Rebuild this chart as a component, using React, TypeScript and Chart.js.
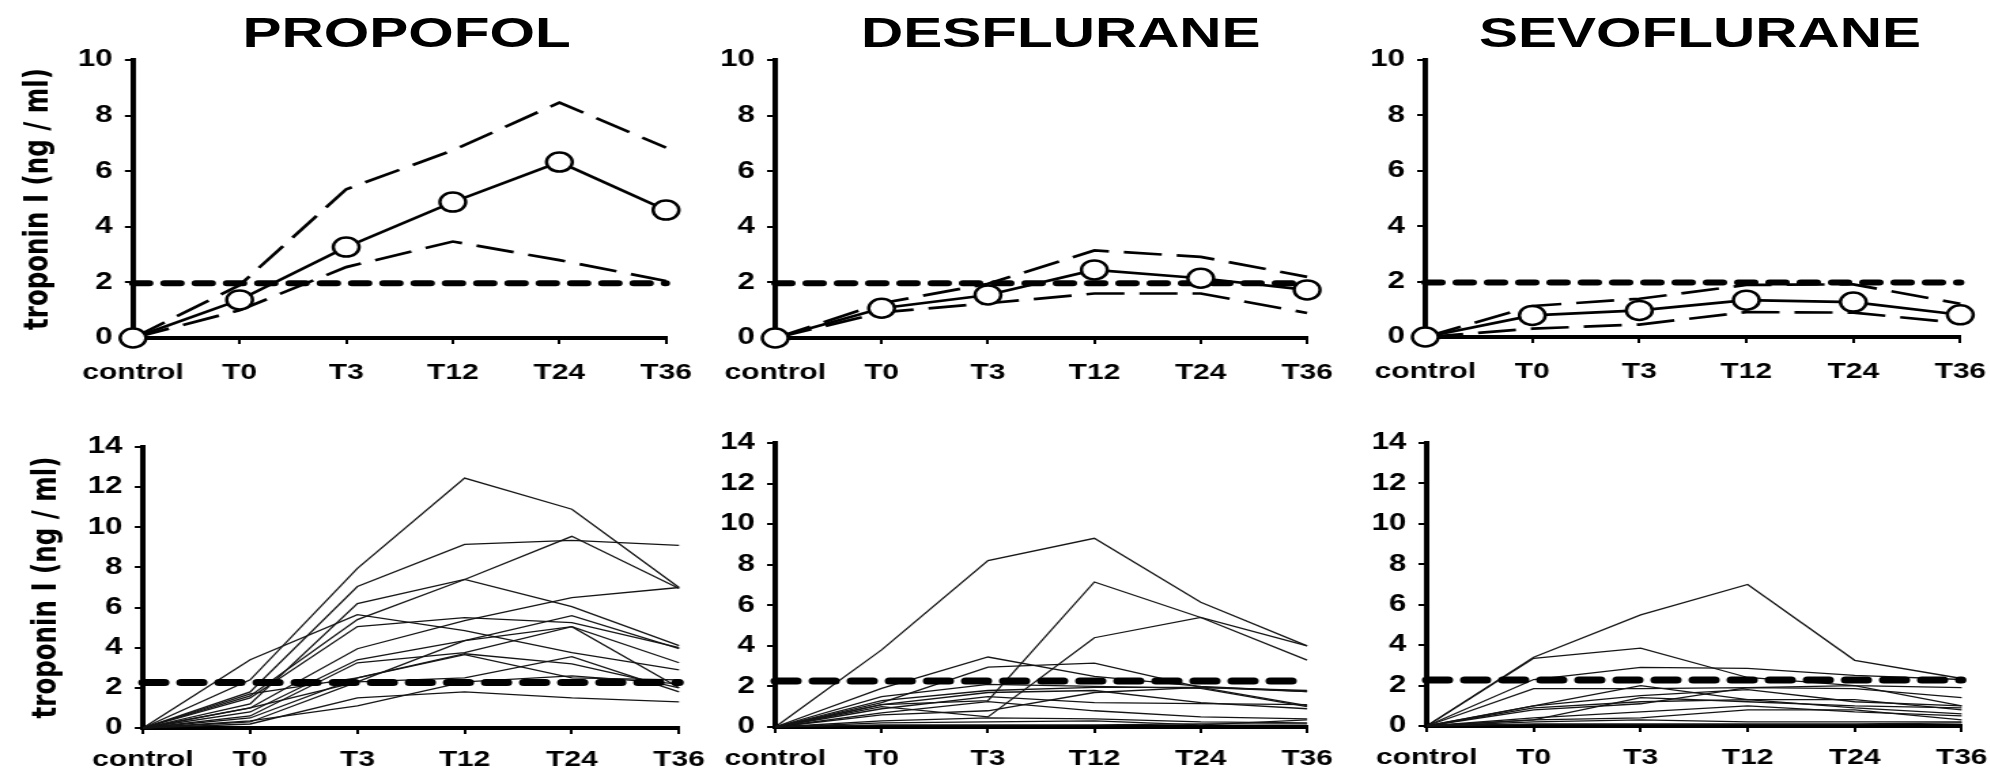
import React, { useEffect, useRef } from "react";
import { Chart, registerables } from "chart.js";

Chart.register(...registerables);

// ---------- data ----------
const timePoints = ["control", "T0", "T3", "T12", "T24", "T36"];
const panelTitles = ["PROPOFOL", "DESFLURANE", "SEVOFLURANE"];
const yAxisTitle = "troponin I (ng / ml)";
const topYMax = 10;
const bottomYMax = 14;
const yStep = 2;

const propofolMean = [0, 1.37, 3.27, 4.89, 6.33, 4.6];
const propofolUpper = [0, 1.9, 5.35, 6.75, 8.47, 6.85];
const propofolLower = [0, 1.0, 2.55, 3.47, 2.8, 2.05];

const desfluraneMean = [0, 1.07, 1.55, 2.45, 2.15, 1.73];
const desfluraneUpper = [0, 1.25, 1.95, 3.15, 2.92, 2.2];
const desfluraneLower = [0, 0.92, 1.25, 1.6, 1.6, 0.9];

const sevofluraneMean = [0, 0.78, 0.96, 1.33, 1.26, 0.8];
const sevofluraneUpper = [0, 1.12, 1.38, 1.88, 1.9, 1.2];
const sevofluraneLower = [0, 0.3, 0.45, 0.9, 0.88, 0.5];

const thresholdTop = 1.97;
const thresholdBottom = 2.27;

const propofolPatients = [
  [0, 2.4, 7.95, 12.45, 10.9, 7.0],
  [0, 1.8, 7.05, 9.15, 9.35, 9.1],
  [0, 1.6, 5.4, 7.4, 9.55, 6.95],
  [0, 1.2, 6.2, 7.4, 6.05, 4.1],
  [0, 3.4, 5.65, 4.85, 3.75, 2.9],
  [0, 1.5, 5.05, 5.5, 5.25, 4.0],
  [0, 1.0, 3.95, 5.35, 6.5, 7.0],
  [0, 0.8, 3.4, 4.35, 5.6, 3.95],
  [0, 0.6, 3.25, 3.75, 5.05, 3.25],
  [0, 1.7, 2.5, 3.65, 2.5, 2.4],
  [0, 0.5, 2.5, 3.7, 3.2, 2.0],
  [0, 0.3, 2.3, 2.5, 3.55, 1.8],
  [0, 0.35, 1.1, 2.3, 2.6, 2.2],
  [0, 0.2, 1.5, 1.8, 1.5, 1.3],
  [0, 1.0, 2.3, 4.35, 5.05, 2.0],
];

const desfluranePatients = [
  [0, 3.8, 8.2, 9.3, 6.15, 4.0],
  [0, 1.1, 1.3, 7.15, 5.4, 3.3],
  [0, 1.0, 0.5, 4.4, 5.4, 4.0],
  [0, 1.9, 3.45, 2.5, 2.0, 1.75],
  [0, 1.2, 2.95, 3.15, 1.95, 1.05],
  [0, 1.3, 1.8, 1.95, 1.95, 1.75],
  [0, 1.1, 1.7, 1.8, 1.2, 0.9],
  [0, 0.9, 1.5, 1.2, 1.15, 1.1],
  [0, 0.7, 1.25, 0.8, 0.5, 0.4],
  [0, 0.6, 0.8, 1.7, 1.95, 1.8],
  [0, 0.3, 0.45, 0.4, 0.25, 0.2],
  [0, 0.2, 0.25, 0.3, 0.1, 0.35],
  [0, 0.1, 0.1, 0.1, 0.15, 0.15],
  [0, 1.5, 2.1, 2.0, 1.9, 1.0],
];

const sevofluranePatients = [
  [0, 3.4, 5.5, 7.0, 3.25, 2.35],
  [0, 3.35, 3.85, 2.4, 2.0, 1.9],
  [0, 2.3, 2.9, 2.85, 2.5, 2.3],
  [0, 1.85, 1.85, 1.9, 1.85, 1.4],
  [0, 1.0, 2.0, 1.3, 1.3, 0.8],
  [0, 1.0, 1.5, 1.8, 1.2, 1.0],
  [0, 0.9, 1.2, 1.3, 0.9, 0.6],
  [0, 0.8, 1.1, 1.9, 2.0, 1.0],
  [0, 0.4, 0.7, 1.0, 0.7, 0.5],
  [0, 0.3, 0.4, 0.8, 0.8, 0.3],
  [0, 0.2, 0.3, 0.2, 0.2, 0.2],
  [0, 0.1, 0.1, 0.1, 0.1, 0.15],
  [0, 0.3, 1.4, 1.2, 1.0, 0.9],
];

// ---------- layout (unstretched px; figure is stretched horizontally) ----------
const STRETCH = 1.36;
const PAD_TOP = 28;
const PAD_RIGHT = 38;
const TICK_FONT = '"Liberation Sans", Arial, sans-serif';

type Area = { l: number; r: number; t: number; b: number };
type PanelCfg = {
  kind: "summary" | "individual";
  yMax: number;
  area: Area;
  yWidth: number;
  xHeight: number;
  showYTitle: boolean;
  yTitlePad: number;
  xPad: number;
  mean?: number[];
  upper?: number[];
  lower?: number[];
  patients?: number[][];
  threshold: number;
};

const panels: PanelCfg[] = [
  { kind: "summary", yMax: topYMax, area: { l: 97.8, r: 489.7, t: 60, b: 338 }, yWidth: 97.8, xHeight: 55, showYTitle: true, yTitlePad: 14, xPad: 16, mean: propofolMean, upper: propofolUpper, lower: propofolLower, threshold: thresholdTop },
  { kind: "summary", yMax: topYMax, area: { l: 569.9, r: 961.0, t: 60, b: 338 }, yWidth: 60, xHeight: 55, showYTitle: false, yTitlePad: 0, xPad: 16, mean: desfluraneMean, upper: desfluraneUpper, lower: desfluraneLower, threshold: thresholdTop },
  { kind: "summary", yMax: topYMax, area: { l: 1047.8, r: 1441.2, t: 60, b: 337 }, yWidth: 60, xHeight: 55, showYTitle: false, yTitlePad: 0, xPad: 16, mean: sevofluraneMean, upper: sevofluraneUpper, lower: sevofluraneLower, threshold: thresholdTop },
  { kind: "individual", yMax: bottomYMax, area: { l: 105.1, r: 499.3, t: 447, b: 728 }, yWidth: 105.1, xHeight: 50, showYTitle: true, yTitlePad: 20, xPad: 13, patients: propofolPatients, threshold: thresholdBottom },
  { kind: "individual", yMax: bottomYMax, area: { l: 569.9, r: 961.0, t: 443, b: 727 }, yWidth: 60, xHeight: 50, showYTitle: false, yTitlePad: 0, xPad: 13, patients: desfluranePatients, threshold: thresholdBottom },
  { kind: "individual", yMax: bottomYMax, area: { l: 1048.5, r: 1441.9, t: 443, b: 726 }, yWidth: 60, xHeight: 50, showYTitle: false, yTitlePad: 0, xPad: 13, patients: sevofluranePatients, threshold: thresholdBottom },
];

const titleCenters = [299, 780, 1250];

function buildDatasets(cfg: PanelCfg): any[] {
  const ds: any[] = [];
  if (cfg.kind === "summary") {
    ds.push({
      label: "mean",
      data: cfg.mean,
      borderColor: "#000",
      borderWidth: 2.6,
      pointRadius: 9.5,
      pointBorderWidth: 2.5,
      pointBackgroundColor: "#fff",
      pointBorderColor: "#000",
      order: 0,
      clip: false,
    });
    ds.push({ label: "upper", data: cfg.upper, borderColor: "#000", borderWidth: 2.7, borderDash: [28, 11], pointRadius: 0, order: 1, clip: false });
    ds.push({ label: "lower", data: cfg.lower, borderColor: "#000", borderWidth: 2.7, borderDash: [28, 11], pointRadius: 0, order: 1, clip: false });
    ds.push({
      label: "threshold",
      data: timePoints.map(() => cfg.threshold),
      borderColor: "#000",
      borderWidth: 6,
      borderDash: [12, 11],
      borderCapStyle: "round",
      pointRadius: 0,
      order: 2,
      clip: false,
    });
  } else {
    (cfg.patients || []).forEach((p, i) => {
      ds.push({ label: "patient " + (i + 1), data: p, borderColor: "#151515", borderWidth: 1.3, pointRadius: 0, order: 1, clip: false });
    });
    ds.push({
      label: "threshold",
      data: timePoints.map(() => cfg.threshold),
      borderColor: "#000",
      borderWidth: 7,
      borderDash: [16, 12],
      borderCapStyle: "round",
      pointRadius: 0,
      order: 0,
      clip: false,
    });
  }
  return ds;
}

function PanelChart({ cfg }: { cfg: PanelCfg }) {
  const ref = useRef<HTMLCanvasElement>(null);
  const areaW = cfg.area.r - cfg.area.l;
  const areaH = cfg.area.b - cfg.area.t;
  const width = Math.ceil(cfg.yWidth + areaW + PAD_RIGHT);
  const padRight = width - cfg.yWidth - areaW;
  const height = Math.ceil(PAD_TOP + areaH + cfg.xHeight);
  const xHeight = height - PAD_TOP - areaH;

  useEffect(() => {
    if (!ref.current) return;
    const chart = new Chart(ref.current, {
      type: "line",
      data: { labels: timePoints, datasets: buildDatasets(cfg) },
      options: {
        responsive: false,
        animation: false,
        events: [],
        devicePixelRatio: 1,
        layout: { padding: { top: PAD_TOP, right: padRight, bottom: 0, left: 0 } },
        elements: { line: { tension: 0 } },
        plugins: { legend: { display: false }, tooltip: { enabled: false }, title: { display: false } },
        scales: {
          x: {
            type: "category",
            offset: false,
            grid: { display: true, drawOnChartArea: false, drawTicks: true, tickLength: 6, color: "#000", lineWidth: 2 },
            border: { display: true, color: "#000", width: 4 },
            ticks: { color: "#000", font: { family: TICK_FONT, weight: "bold", size: 22 }, padding: cfg.xPad, maxRotation: 0, autoSkip: false },
            afterFit: (s: any) => {
              s.height = xHeight;
            },
          },
          y: {
            min: 0,
            max: cfg.yMax,
            grid: { display: true, drawOnChartArea: false, drawTicks: true, tickLength: 6, color: "#000", lineWidth: 2 },
            border: { display: true, color: "#000", width: 4 },
            ticks: { stepSize: yStep, color: "#000", font: { family: TICK_FONT, weight: "bold", size: 23 }, padding: 9 },
            title: {
              display: cfg.showYTitle,
              text: yAxisTitle,
              color: "#000",
              font: { family: '"DejaVu Sans", sans-serif', weight: "bold", size: 24.5 },
              padding: { top: cfg.yTitlePad, bottom: 0 },
            },
            afterFit: (s: any) => {
              s.width = cfg.yWidth;
            },
          },
        },
      } as any,
    });
    return () => chart.destroy();
  }, []);

  return (
    <div style={{ position: "absolute", left: cfg.area.l - cfg.yWidth, top: cfg.area.t - PAD_TOP, width, height }}>
      <canvas ref={ref} width={width} height={height} />
    </div>
  );
}

export default function App() {
  const baseWidth = 1990 / STRETCH;
  return (
    <div
      style={{
        position: "absolute",
        left: 0,
        top: 0,
        width: baseWidth,
        height: 768,
        background: "#fff",
        transform: `scaleX(${STRETCH})`,
        transformOrigin: "0 0",
        overflow: "hidden",
      }}
    >
      {panelTitles.map((t, i) => (
        <div
          key={t}
          style={{
            position: "absolute",
            left: titleCenters[i] - 250,
            width: 500,
            top: 11,
            textAlign: "center",
            fontFamily: TICK_FONT,
            fontWeight: "bold",
            fontSize: 43,
            lineHeight: "43px",
            color: "#000",
          }}
        >
          {t}
        </div>
      ))}
      {panels.map((p, i) => (
        <PanelChart key={i} cfg={p} />
      ))}
    </div>
  );
}
